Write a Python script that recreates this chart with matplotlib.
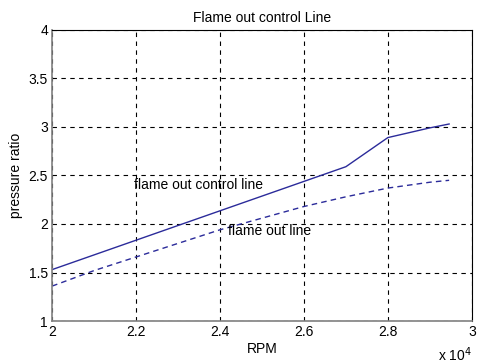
import matplotlib
matplotlib.use("Agg")
import matplotlib.pyplot as plt

plt.rcParams["font.family"] = ["Liberation Sans", "DejaVu Sans"]

# RPM (x 10^4) and pressure ratios
rpm_control = [2.0, 2.7, 2.8, 2.9, 2.946]
ratio_control = [1.53, 2.59, 2.89, 2.99, 3.03]

rpm_out = [2.0, 2.1, 2.2, 2.3, 2.4, 2.5, 2.6, 2.7, 2.8, 2.9, 2.946]
ratio_out = [1.36, 1.52, 1.66, 1.80, 1.94, 2.06, 2.18, 2.28, 2.37, 2.43, 2.45]

fig = plt.figure(figsize=(4.78, 3.64), dpi=100)
ax = fig.add_axes([0.109, 0.118, 0.878, 0.80])

ax.plot(rpm_control, ratio_control, color="#2b2b9a", lw=1.0)
ax.plot(rpm_out, ratio_out, color="#2b2b9a", lw=1.0, ls=(0, (4, 3)))

ax.text(2.195, 2.4, "flame out control line", fontsize=10, ha="left", va="center")
ax.text(2.42, 1.93, "flame out line", fontsize=10, ha="left", va="center")

ax.set_xlim(2, 3)
ax.set_ylim(1, 4)
ax.set_xticks([2, 2.2, 2.4, 2.6, 2.8, 3])
ax.set_xticklabels(["2", "2.2", "2.4", "2.6", "2.8", "3"])
ax.set_yticks([1, 1.5, 2, 2.5, 3, 3.5, 4])
ax.set_yticklabels(["1", "1.5", "2", "2.5", "3", "3.5", "4"])
ax.tick_params(labelsize=10, length=0, pad=3)
ax.grid(True, color="black", ls=(0, (4, 4)), lw=0.8)

for side in ["left", "bottom"]:
    ax.spines[side].set_color("#808080")
    ax.spines[side].set_linewidth(1.2)
for side in ["top", "right"]:
    ax.spines[side].set_color("black")
    ax.spines[side].set_linewidth(0.8)

ax.set_title("Flame out control Line", fontsize=10, pad=6)
ax.set_xlabel("RPM", fontsize=10, labelpad=2)
ax.set_ylabel("pressure ratio", fontsize=10, labelpad=4)
fig.text(0.952, 0.025, r"x 10$^4$", fontsize=10, ha="center", va="center")

fig.savefig("out.png", dpi=100)
